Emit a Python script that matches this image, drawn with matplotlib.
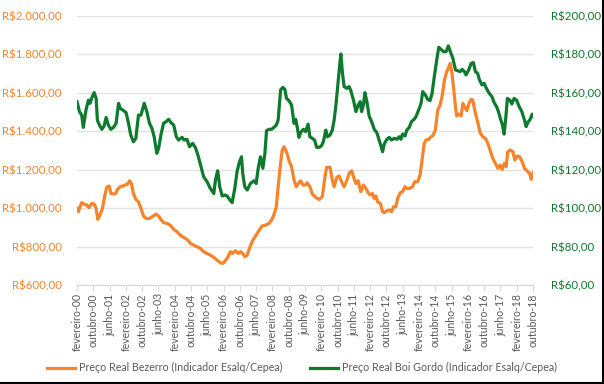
import matplotlib
matplotlib.use('Agg')
import matplotlib.pyplot as plt
from matplotlib.lines import Line2D

# months counted from fevereiro-2000
bezerro_mes = [0, 0.7, 1.5, 2.3, 3.4, 4.8, 5.9, 7.2, 8.4, 9.4, 10.2, 11.3, 12.5, 13.5, 14.6,
               15.8, 16.7, 17.9, 19.0, 19.9, 21.2, 22.5, 23.6, 24.8, 25.8, 26.8, 27.7, 28.9,
               30.2, 31.4, 32.7, 34.0, 35.6, 37.3, 38.9, 40.1, 41.2, 42.5, 44.2, 45.8, 47.5,
               49.1, 50.7, 52.4, 54.5, 55.7, 57.3, 58.9, 60.6, 62.2, 63.9, 65.5, 67.2, 68.8,
               70.4, 71.6, 72.9, 74.2, 75.4, 76.5, 77.8, 79.1, 80.3, 81.4, 82.4, 83.6, 84.7,
               86.0, 87.7, 89.3, 90.9, 92.6, 94.3, 95.6, 96.7, 97.9, 98.8, 100.0, 100.8, 101.7,
               102.5, 103.4, 104.1, 105.4, 106.6, 107.7, 108.7, 109.8, 111.0, 112.3, 113.1,
               114.4, 115.6, 117.2, 118.9, 120.5, 121.7, 122.6, 124.3, 125.4, 126.3, 127.6,
               128.8, 129.9, 131.2, 132.6, 133.7, 134.9, 135.8, 137.0, 138.1, 139.4, 140.7,
               141.9, 143.0, 144.0, 145.1, 146.0, 146.8, 147.6, 149.0, 150.1, 150.9, 152.2,
               153.4, 154.5, 155.5, 156.6, 157.5, 158.8, 159.9, 161.1, 162.0, 163.2, 164.8,
               165.9, 167.3, 168.5, 169.5, 170.6, 171.4, 172.7, 173.9, 175.0, 176.0, 177.2,
               178.3, 179.3, 180.5, 181.6, 182.6, 183.3, 184.2, 184.9, 185.9, 186.5, 187.5,
               188.7, 189.5, 190.3, 191.5, 192.4, 193.6, 194.4, 195.7, 196.8, 198.0, 199.3,
               200.6, 201.8, 202.9, 204.2, 205.5, 206.7, 207.8, 208.8, 209.9, 210.8, 211.6,
               212.8, 214.1, 215.1, 216.1, 217.4, 218.7, 219.8, 221.0, 222.3, 223.1, 224.0]
bezerro = [998, 981, 1007, 1028, 1021, 1016, 1002, 1024, 1021, 998, 941, 964, 998, 1059, 1108,
           1115, 1076, 1073, 1076, 1097, 1111, 1115, 1120, 1125, 1142, 1125, 1076, 1045,
           1033, 998, 958, 946, 946, 958, 969, 958, 941, 924, 920, 911, 889,
           877, 859, 847, 833, 816, 807, 799, 790, 773, 764, 755, 743, 729,
           715, 712, 726, 747, 773, 764, 778, 764, 773, 764, 747, 755, 790,
           825, 854, 882, 906, 911, 920, 938, 964, 1007, 1111, 1233, 1302, 1319,
           1302, 1276, 1247, 1215, 1146, 1111, 1128, 1142, 1120, 1120, 1132,
           1111, 1073, 1056, 1045, 1059, 1155, 1212, 1212, 1146, 1111, 1160,
           1167, 1137, 1111, 1146, 1181, 1194, 1163, 1128, 1142, 1085, 1120,
           1102, 1080, 1068, 1076, 1050, 1063, 1033, 1024, 981, 976, 986,
           990, 981, 1007, 1007, 1050, 1080, 1085, 1111, 1102, 1102, 1111,
           1137, 1137, 1172, 1250, 1337, 1354, 1358, 1371, 1380, 1406, 1510,
           1536, 1580, 1667, 1710, 1733, 1753, 1701, 1632, 1528, 1479, 1489,
           1479, 1545, 1528, 1507, 1542, 1566, 1562, 1493, 1450, 1392, 1371,
           1363, 1337, 1302, 1259, 1233, 1207, 1224, 1201, 1233, 1215, 1293,
           1302, 1293, 1250, 1271, 1267, 1241, 1207, 1194, 1181, 1149, 1184]

boi_mes = [0, 1.2, 2.3, 3.1, 4.4, 5.6, 6.4, 7.2, 8.4, 9.4, 10.0, 11.0, 12.2, 13.3, 14.3, 15.4,
           16.6, 17.9, 19.2, 20.4, 21.2, 22.5, 24.1, 25.3, 26.4, 27.7, 28.9, 30.2, 31.4, 33.0,
           34.3, 35.6, 36.8, 37.9, 39.2, 40.1, 41.2, 42.5, 43.8, 45.0, 46.1, 47.5, 48.8, 49.9,
           51.6, 52.7, 54.0, 55.3, 56.8, 58.1, 59.4, 61.1, 62.2, 63.9, 65.5, 67.2, 68.0, 69.1,
           70.1, 71.3, 72.6, 73.7, 74.9, 76.2, 77.5, 78.6, 79.8, 80.8, 81.4, 82.4, 83.6, 85.2,
           86.9, 88.0, 89.0, 90.1, 91.3, 92.3, 93.1, 94.3, 95.6, 96.7, 97.9, 98.8, 100.0, 101.1,
           102.1, 102.9, 104.1, 105.4, 106.6, 107.4, 108.2, 109.0, 109.8, 111.2, 112.3, 113.5,
           114.4, 115.6, 116.7, 117.7, 118.9, 120.0, 121.0, 121.7, 122.2, 123.0, 124.3, 125.4,
           126.3, 127.1, 127.9, 128.8, 129.6, 130.4, 131.2, 132.6, 133.7, 134.5, 135.8, 137.0,
           138.1, 139.1, 139.8, 140.7, 141.4, 142.4, 143.5, 144.7, 146.0, 147.3, 148.4, 149.3,
           150.1, 150.9, 152.2, 153.4, 154.5, 155.8, 157.1, 158.3, 159.1, 159.9, 161.1, 162.0,
           163.2, 164.3, 165.6, 166.5, 167.8, 169.0, 169.8, 171.1, 172.2, 173.4, 174.4, 175.5,
           176.7, 177.7, 178.8, 180.0, 181.3, 182.4, 183.4, 184.6, 185.9, 187.0, 188.2, 189.2,
           190.3, 191.1, 192.4, 193.6, 194.7, 195.7, 196.8, 197.6, 198.9, 200.0, 201.1, 202.5,
           203.8, 204.9, 206.1, 207.0, 208.2, 209.0, 209.8, 210.6, 211.4, 212.6, 213.6, 214.7,
           215.9, 217.2, 218.5, 219.8, 220.6, 221.4, 222.6, 223.6, 224.0]
boi = [155.4, 150.2, 148.4, 142.0, 151.0, 156.2, 154.5, 157.1, 160.1, 157.1, 145.8, 143.2, 141.0,
       142.7, 147.2, 143.2, 141.0, 142.0, 144.1, 154.5, 151.9, 151.0, 149.7, 144.1, 138.0, 134.5,
       136.3, 148.4, 148.4, 154.5, 150.2, 144.1, 141.5, 137.1, 128.5, 131.1, 138.0, 144.1, 145.0,
       146.2, 144.5, 143.2, 137.1, 135.4, 136.8, 135.4, 135.8, 131.9, 133.7, 131.6, 127.6, 120.7,
       116.3, 113.7, 110.2, 107.6, 114.6, 119.4, 111.1, 106.3, 106.8, 106.3, 104.5, 102.8, 110.2,
       118.9, 124.1, 126.7, 118.1, 111.1, 109.4, 112.8, 114.2, 112.8, 120.7, 126.7, 120.7, 128.5,
       140.3, 141.0, 141.0, 142.0, 143.2, 145.8, 161.5, 162.8, 161.8, 157.1, 155.9, 153.6, 144.1,
       146.2, 142.0, 136.8, 139.2, 141.0, 139.8, 143.7, 137.1, 136.3, 135.4, 131.6, 131.6, 132.3,
       134.5, 138.0, 140.6, 137.1, 138.0, 140.6, 145.8, 152.8, 161.5, 171.9, 180.2, 170.1, 163.2,
       162.3, 163.2, 161.1, 156.2, 150.2, 153.6, 155.4, 150.2, 153.6, 160.1, 155.4, 147.9, 145.0,
       141.0, 139.2, 135.4, 132.3, 129.3, 133.3, 135.8, 136.8, 135.4, 136.3, 135.8, 137.1, 135.8,
       138.5, 137.5, 140.6, 142.0, 145.0, 146.2, 147.6, 151.0, 154.5, 160.6, 158.9, 156.6, 155.9,
       159.7, 168.4, 177.1, 183.7, 182.6, 181.4, 181.4, 184.4, 181.4, 178.0, 171.9, 171.5, 171.0,
       172.2, 171.0, 169.3, 171.9, 175.3, 175.7, 171.0, 170.1, 167.0, 164.1, 164.9, 162.3, 159.7,
       158.0, 154.9, 152.8, 150.2, 145.8, 143.2, 138.5, 146.7, 157.1, 156.2, 154.2, 157.1, 156.2,
       152.8, 150.2, 145.8, 142.4, 144.5, 146.2, 148.9, 147.9]

meses_pt = ['fevereiro', 'outubro', 'junho']
tick_mes = list(range(0, 225, 8))
tick_txt = []
for i, m in enumerate(tick_mes):
    ano = 2000 + (1 + m) // 12
    tick_txt.append('%s-%02d' % (meses_pt[i % 3], ano % 100))

laranja = '#F7832A'
verde = '#0E7A2E'
cinza = '#595959'

plt.rcParams['font.family'] = ['Lato', 'DejaVu Sans']

fig = plt.figure(figsize=(6.04, 3.84), dpi=100)
ax = fig.add_axes([0.1275, 0.258, 0.755, 0.7005])
ax2 = ax.twinx()

l1, = ax.plot(bezerro_mes, bezerro, color=laranja, lw=2.3, solid_joinstyle='round')
l2, = ax2.plot(boi_mes, boi, color=verde, lw=2.3, solid_joinstyle='round')

ax.set_xlim(0, 224)
ax.set_ylim(600, 2000)
ax2.set_ylim(60, 200)
ax.set_yticks(range(600, 2001, 200))
ax2.set_yticks(range(60, 201, 20))

def brl(v):
    s = '{:,.2f}'.format(v).replace(',', 'X').replace('.', ',').replace('X', '.')
    return 'R$' + s

ax.set_yticklabels([brl(v) for v in range(600, 2001, 200)], color=laranja, fontsize=8.3)
ax2.set_yticklabels([brl(v) for v in range(60, 201, 20)], color=verde, fontsize=8.3)
ax.set_xticks(tick_mes)
ax.set_xticklabels(tick_txt, rotation=90, fontsize=7.6, color=cinza)

ax.grid(axis='y', color='#E3E3E3', lw=1)
ax.set_axisbelow(True)
for a in (ax, ax2):
    for s in ['top', 'left', 'right']:
        a.spines[s].set_visible(False)
    a.spines['bottom'].set_color('#D9D9D9')
ax.tick_params(axis='y', length=0, pad=11)
ax2.tick_params(axis='y', length=0, pad=13)
ax.tick_params(axis='x', length=4, color='#D9D9D9', pad=2)

fig.legend([l1, l2], ['Preço Real Bezerro (Indicador Esalq/Cepea)',
                      'Preço Real Boi Gordo (Indicador Esalq/Cepea)'],
           loc='center', bbox_to_anchor=(0.5, 0.042), ncol=2, frameon=False,
           fontsize=7.7, labelcolor=cinza, handlelength=2.6, columnspacing=2.6,
           handletextpad=0.4)

fig.add_artist(Line2D([0, 1], [0.002, 0.002], color='black', lw=1.5, transform=fig.transFigure))
fig.add_artist(Line2D([0.998, 0.998], [0, 1], color='black', lw=1.5, transform=fig.transFigure))

fig.savefig('out.png', dpi=100)
